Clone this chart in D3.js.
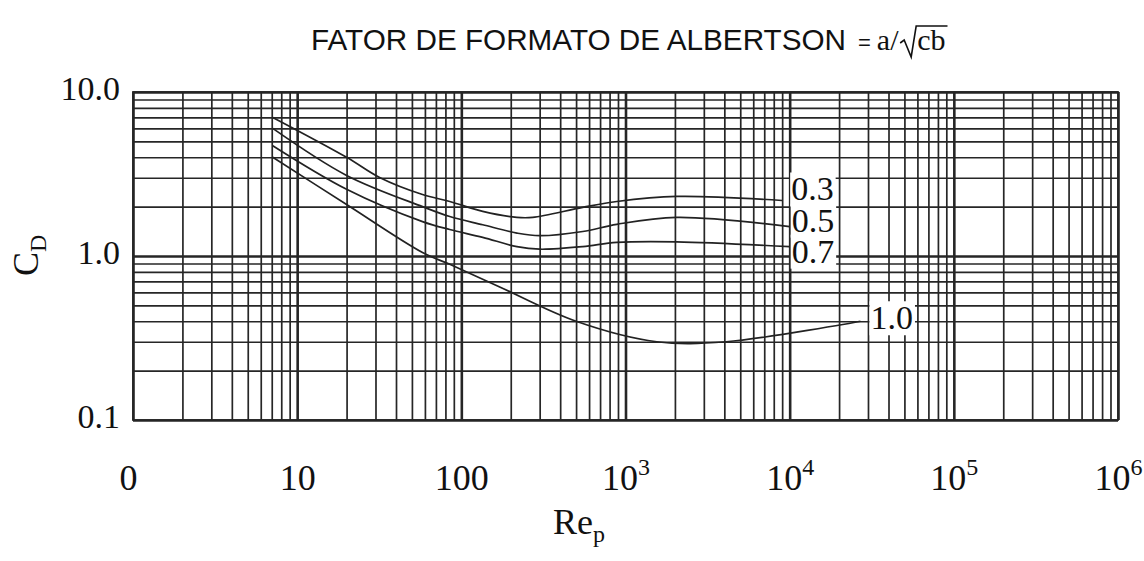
<!DOCTYPE html>
<html>
<head>
<meta charset="utf-8">
<script src="https://cdn.jsdelivr.net/npm/d3@7"></script>
<style>
body{margin:0;background:#fff}
text{fill:#111}
</style>
</head>
<body>
<svg id="chart" width="1144" height="561"></svg>
<script>
// tick labels
var xTickValues=[1,10,100,1e3,1e4,1e5,1e6];
var xTickBase=["0","10","100","10","10","10","10"];
var xTickExp=["","","","3","4","5","6"];
var yTickValues=[0.1,1,10];
var yTickLabels=["0.1","1.0","10.0"];

// curves, one per Albertson shape factor (Re_p, C_D)
var factors=["0.3","0.5","0.7","1.0"];
var re03=[7.1,20,32,58,85,135,218,272,549,885,2050,9000];
var cd03=[7.0,4.0,3.0,2.37,2.15,1.87,1.72,1.72,1.98,2.15,2.31,2.18];
var re05=[7.1,20,58,85,135,218,300,549,885,2050,10000];
var cd05=[6.0,3.1,2.0,1.74,1.55,1.38,1.33,1.41,1.56,1.72,1.51];
var re07=[7.1,20,58,85,135,218,300,549,885,2050,10000];
var cd07=[4.7,2.55,1.62,1.45,1.3,1.14,1.1,1.14,1.21,1.22,1.14];
var re10=[7.1,20,58,85,170,500,1550,4100,27000];
var cd10=[4.0,2.06,1.05,0.89,0.65,0.40,0.30,0.30,0.40];

var series=[[re03,cd03],[re05,cd05],[re07,cd07],[re10,cd10]].map(function(s,i){
  return {name:factors[i],pts:s[0].map(function(r,j){return [r,s[1][j]]})}
});

var svg=d3.select("#chart");
var pl=133,pr=1118,pt=92,pb=420;

var x=d3.scaleLog().domain([1,1e6]).range([pl,pr]);
var y=d3.scaleLog().domain([0.1,10]).range([pb,pt]);

var isDecade=function(v){return Math.abs(Math.log10(v)-Math.round(Math.log10(v)))<1e-9};

// grid
var gx=svg.append("g").attr("transform","translate(0,"+pb+")")
  .call(d3.axisBottom(x).tickValues(x.ticks()).tickSize(-(pb-pt)).tickFormat(""));
var gy=svg.append("g").attr("transform","translate("+pl+",0)")
  .call(d3.axisLeft(y).tickValues(y.ticks()).tickSize(-(pr-pl)).tickFormat(""));
[gx,gy].forEach(function(g){
  g.select(".domain").remove();
  g.selectAll(".tick line")
    .attr("stroke","#262626")
    .attr("stroke-width",function(d){return isDecade(d)?2.6:1.7});
});
svg.append("rect").attr("x",pl).attr("y",pt).attr("width",pr-pl).attr("height",pb-pt)
  .attr("fill","none").attr("stroke","#262626").attr("stroke-width",1.8);

// curves
var line=d3.line().x(function(d){return x(d[0])}).y(function(d){return y(d[1])}).curve(d3.curveCatmullRom.alpha(0.5));
svg.append("g").selectAll("path").data(series).join("path")
  .attr("d",function(d){return line(d.pts)})
  .attr("fill","none").attr("stroke","#222").attr("stroke-width",1.7);

// curve labels with white boxes
var labelDx=[9,2,2,10], labelDy=[0,5,16,8];
var lab=svg.append("g").selectAll("g").data(series).join("g");
lab.each(function(d,i){
  var last=d.pts[d.pts.length-1];
  var g=d3.select(this);
  var t=g.append("text")
    .attr("x",x(last[0])+labelDx[i]).attr("y",y(last[1])+labelDy[i])
    .attr("font-family","'Liberation Serif','Times New Roman',serif")
    .attr("font-size",34).text(d.name);
  var b=t.node().getBBox();
  g.insert("rect","text").attr("x",b.x-1).attr("y",b.y+2).attr("width",b.width+3).attr("height",b.height-3)
    .attr("fill","#fff");
});

// x axis labels
var ax=svg.append("g").attr("transform","translate(0,"+pb+")")
  .call(d3.axisBottom(x).tickValues(xTickValues).tickSize(0).tickFormat(""));
ax.select(".domain").remove();
ax.selectAll(".tick text").remove();
ax.selectAll(".tick").each(function(d,i){
  var t=d3.select(this).append("text")
    .attr("x",i===0?-5:0).attr("y",70).attr("text-anchor","middle")
    .attr("font-family","'Liberation Serif','Times New Roman',serif")
    .attr("font-size",36).attr("fill","#111");
  t.append("tspan").text(xTickBase[i]);
  if(xTickExp[i]) t.append("tspan").attr("dy",-15).attr("font-size",24).text(xTickExp[i]);
});

// y axis labels
var ay=svg.append("g").attr("transform","translate("+pl+",0)")
  .call(d3.axisLeft(y).tickValues(yTickValues).tickSize(0).tickFormat(function(d,i){return yTickLabels[i]}));
ay.select(".domain").remove();
ay.selectAll(".tick text")
  .attr("x",-13).attr("dy",7).attr("text-anchor","end")
  .attr("font-family","'Liberation Serif','Times New Roman',serif")
  .attr("font-size",34).attr("fill","#111");

// axis titles
var xt=svg.append("text").attr("x",553).attr("y",534)
  .attr("font-family","'Liberation Serif','Times New Roman',serif").attr("font-size",36);
xt.append("tspan").text("Re");
xt.append("tspan").attr("dy",8).attr("font-size",24).text("p");

var yt=svg.append("text").attr("transform","translate(38,276) rotate(-90)")
  .attr("font-family","'Liberation Serif','Times New Roman',serif").attr("font-size",36);
yt.append("tspan").text("C");
yt.append("tspan").attr("dy",8).attr("font-size",24).text("D");

// title
var title=svg.append("text").attr("x",311).attr("y",50);
title.append("tspan").attr("font-family","'Liberation Sans Narrow','Arial Narrow','Liberation Sans',sans-serif")
  .attr("font-size",29).attr("textLength",535).attr("lengthAdjust","spacingAndGlyphs")
  .text("FATOR DE FORMATO DE ALBERTSON");
title.append("tspan").attr("font-family","'Liberation Sans',Arial,sans-serif").attr("font-size",22).attr("dx",12).text("=");
title.append("tspan").attr("font-family","'Liberation Serif','Times New Roman',serif").attr("font-size",30).attr("dx",6).text("a/");
var tb=title.node().getBBox();
var rx=tb.x+tb.width+1;
var cb=svg.append("text").attr("x",rx+17).attr("y",50)
  .attr("font-family","'Liberation Serif','Times New Roman',serif").attr("font-size",30).text("cb");
var cbw=cb.node().getBBox().width;
svg.append("path")
  .attr("d","M"+rx+",43 L"+(rx+4)+",40 L"+(rx+11)+",57 L"+(rx+16)+",26 L"+(rx+19+cbw)+",26")
  .attr("fill","none").attr("stroke","#111").attr("stroke-width",1.6);
</script>
</body>
</html>
